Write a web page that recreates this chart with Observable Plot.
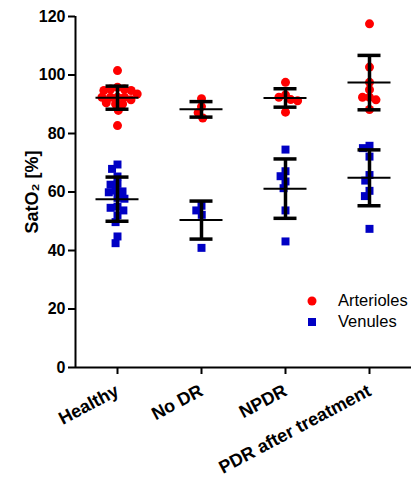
<!DOCTYPE html>
<html><head><meta charset="utf-8">
<script src="https://cdn.jsdelivr.net/npm/d3@7"></script>
<script src="https://cdn.jsdelivr.net/npm/@observablehq/plot@0.6"></script>
<style>
body{margin:0;background:#fff;}
#wrap{position:relative;width:414px;height:483px;}
#wrap svg text{font-weight:bold;}
.legend{position:absolute;left:307px;top:290px;font-family:"Liberation Sans",Arial,sans-serif;font-size:16.5px;color:#000;}
.item{display:flex;align-items:center;height:21px;white-space:nowrap;}
.sym{width:10px;height:10px;display:inline-flex;justify-content:center;align-items:center;margin-right:21px;}
</style></head><body><div id="wrap"></div>
<script>
const groups = ["Healthy", "No DR", "NPDR", "PDR after treatment"];
const yTicks = [0, 20, 40, 60, 80, 100, 120];

const arteriolesHealthy = [101.5, 95.8, 95.2, 95.2, 94.7, 94.7, 93.5, 92.4, 92.4, 92.4, 92.4, 91.5, 90.5, 90.1, 90.1, 87.9, 82.7];
const arteriolesNoDR = [91.9, 89.2, 87.1, 85.3];
const arteriolesNPDR = [97.5, 93.2, 92.4, 91.6, 91.2, 87.3];
const arteriolesPDR = [117.5, 102.7, 97.5, 95.0, 92.4, 92.4, 91.5, 88.2];

const venulesHealthy = [69.4, 67.9, 65.3, 62.8, 62.5, 60.5, 60.2, 59.9, 58.0, 57.7, 55.0, 54.6, 53.7, 52.0, 49.7, 44.8, 42.5];
const venulesNoDR = [55.3, 53.7, 52.2, 40.9];
const venulesNPDR = [74.5, 67.1, 65.4, 63.6, 61.3, 53.7, 43.1];
const venulesPDR = [75.8, 75.0, 72.1, 65.8, 63.9, 60.4, 58.6, 47.4];

const arteriolesMean = [92.25, 88.25, 92.15, 97.4];
const arteriolesSD = [3.95, 2.65, 3.15, 9.3];
const venulesMean = [57.55, 50.4, 61.15, 64.85];
const venulesSD = [7.55, 6.5, 10.15, 9.55];

const red = "#ff0000", blue = "#0000c4";

const toRows = (lists) => groups.flatMap((g, i) => lists[i].map(v => ({group: g, value: v})));
const arterioles = toRows([arteriolesHealthy, arteriolesNoDR, arteriolesNPDR, arteriolesPDR]);
const venules = toRows([venulesHealthy, venulesNoDR, venulesNPDR, venulesPDR]);
const stats = [
  ...groups.map((g, i) => ({group: g, mean: arteriolesMean[i], lo: arteriolesMean[i] - arteriolesSD[i], hi: arteriolesMean[i] + arteriolesSD[i]})),
  ...groups.map((g, i) => ({group: g, mean: venulesMean[i], lo: venulesMean[i] - venulesSD[i], hi: venulesMean[i] + venulesSD[i]}))
];

const chart = Plot.plot({
  width: 414, height: 483,
  marginLeft: 75, marginRight: 3, marginTop: 16, marginBottom: 116,
  fx: {domain: groups, padding: 0},
  y: {domain: [0, 120]},
  style: {fontFamily: "'Liberation Sans', Arial, sans-serif", fontSize: "16px", color: "#000", background: "#fff"},
  marks: [
    Plot.ruleY([0], {strokeWidth: 2}),
    Plot.ruleX([groups[0]], {x: null, fx: d => d, y1: 0, y2: 120, dx: -42, strokeWidth: 2}),
    Plot.axisY({ticks: yTicks, tickSize: 7, strokeWidth: 2, tickPadding: 3, fontSize: 16}),
    Plot.axisY({ticks: [], label: "SatO₂ [%]", labelAnchor: "center", labelOffset: 50, labelArrow: "none", fontSize: 18}),
    Plot.axisFx({anchor: "bottom", tickSize: 7, strokeWidth: 2, tickRotate: -28, tickPadding: 15, label: null, fontSize: 18}),
    Plot.dot(arterioles, Plot.dodgeX({anchor: "middle", padding: -2}, {fx: "group", y: "value", r: 4.5, fill: red, symbol: "circle"})),
    Plot.dot(venules, Plot.dodgeX({anchor: "middle", padding: -2}, {fx: "group", y: "value", r: 4.5, fill: blue, symbol: "square"})),
    Plot.ruleX(stats, {x: null, fx: "group", y1: "lo", y2: "hi", strokeWidth: 3.5}),
    Plot.tickY(stats, {fx: "group", y: "lo", insetLeft: 30.5, insetRight: 30.5, strokeWidth: 3.5}),
    Plot.tickY(stats, {fx: "group", y: "hi", insetLeft: 30.5, insetRight: 30.5, strokeWidth: 3.5}),
    Plot.tickY(stats, {fx: "group", y: "mean", insetLeft: 20.5, insetRight: 20.5, strokeWidth: 2})
  ]
});
const wrap = document.getElementById("wrap");
wrap.appendChild(chart);

const legend = document.createElement("div");
legend.className = "legend";
legend.innerHTML = `
<div class="item"><span class="sym"><svg width="10" height="10"><circle cx="5" cy="5" r="4.5" fill="${red}"/></svg></span>Arterioles</div>
<div class="item"><span class="sym"><svg width="10" height="10"><rect x="1" y="1" width="8" height="8" fill="${blue}"/></svg></span>Venules</div>`;
wrap.appendChild(legend);
</script>
</body></html>
